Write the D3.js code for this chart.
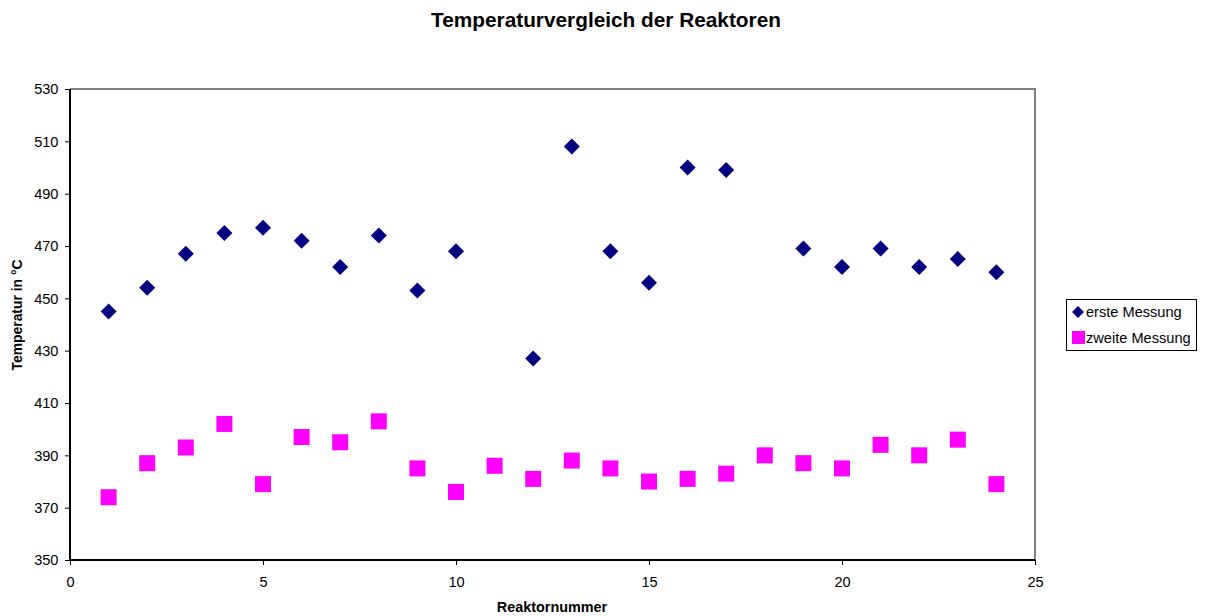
<!DOCTYPE html>
<html>
<head>
<meta charset="utf-8">
<script src="https://cdn.jsdelivr.net/npm/d3@7"></script>
<style>
  html, body { margin: 0; padding: 0; background: #fff; }
  svg { display: block; font-family: "Liberation Sans", Arial, sans-serif; }
</style>
</head>
<body>
<svg id="chart" width="1207" height="616"></svg>
<script>
// Reactor numbers and the two measurement series (°C); null = no reading
const reactors = [1,2,3,4,5,6,7,8,9,10,11,12,13,14,15,16,17,18,19,20,21,22,23,24];
const ersteMessung = [445,454,467,475,477,472,462,474,453,468,null,427,508,468,456,500,499,null,469,462,469,462,465,460];
const zweiteMessung = [374,387,393,402,379,397,395,403,385,376,386,381,388,385,380,381,383,390,387,385,394,390,396,379];
const xTicks = [0,5,10,15,20,25];
const yTicks = [350,370,390,410,430,450,470,490,510,530];
const seriesNames = ["erste Messung", "zweite Messung"];

const svg = d3.select("#chart");
const plot = { left: 70, top: 89, right: 1035, bottom: 560 };

const x = d3.scaleLinear().domain([0, 25]).range([plot.left, plot.right]);
const y = d3.scaleLinear().domain([350, 530]).range([plot.bottom, plot.top]);

// Title
svg.append("text")
  .attr("x", 606).attr("y", 27)
  .attr("text-anchor", "middle")
  .style("font-size", "20.8px").style("font-weight", "bold")
  .text("Temperaturvergleich der Reaktoren");

// Frame: grey top/right, axes drawn below in black
svg.append("path")
  .attr("d", `M${plot.left},${plot.top}H${plot.right}V${plot.bottom}`)
  .attr("fill", "none").attr("stroke", "#808080").attr("stroke-width", 2);

// Axes
const xAxis = svg.append("g")
  .attr("transform", `translate(0,${plot.bottom})`)
  .call(d3.axisBottom(x).tickValues(xTicks).tickSize(5).tickPadding(11.5).tickFormat(d3.format("d")));
const yAxis = svg.append("g")
  .attr("transform", `translate(${plot.left},0)`)
  .call(d3.axisLeft(y).tickValues(yTicks).tickSize(5).tickPadding(6.5).tickFormat(d3.format("d")));

[xAxis, yAxis].forEach(g => {
  g.select(".domain").attr("stroke", "#000").attr("stroke-width", 2);
  g.selectAll(".tick line").attr("stroke", "#000");
  g.selectAll(".tick text").attr("fill", "#000")
    .style("font-size", "14.6px").style("font-family", "Liberation Sans, Arial, sans-serif");
});
xAxis.select(".domain").attr("d", `M${plot.left},0H${plot.right}`);
yAxis.select(".domain").attr("d", `M0,${plot.bottom}V${plot.top}`);

// Axis titles
svg.append("text")
  .attr("x", 552).attr("y", 612)
  .attr("text-anchor", "middle")
  .style("font-size", "14.4px").style("font-weight", "bold")
  .text("Reaktornummer");
svg.append("text")
  .attr("transform", `translate(22,315) rotate(-90)`)
  .attr("text-anchor", "middle")
  .style("font-size", "13.9px").style("font-weight", "bold")
  .text("Temperatur in °C");

const diamond = (cx, cy, r) => `M${cx},${cy - r}L${cx + r},${cy}L${cx},${cy + r}L${cx - r},${cy}Z`;

// First measurement: navy diamonds
svg.append("g").selectAll("path")
  .data(reactors.map((r, i) => ({ r, v: ersteMessung[i] })).filter(d => d.v != null))
  .join("path")
  .attr("d", d => diamond(x(d.r), y(d.v), 8))
  .attr("fill", "#000080");

// Second measurement: magenta squares
svg.append("g").selectAll("rect")
  .data(reactors.map((r, i) => ({ r, v: zweiteMessung[i] })).filter(d => d.v != null))
  .join("rect")
  .attr("x", d => x(d.r) - 8).attr("y", d => y(d.v) - 8)
  .attr("width", 16).attr("height", 16)
  .attr("fill", "#FF00FF");

// Legend
const legend = svg.append("g");
legend.append("rect")
  .attr("x", 1066.5).attr("y", 299.5).attr("width", 130).attr("height", 51)
  .attr("fill", "#fff").attr("stroke", "#000").attr("stroke-width", 1);
const ly = [312, 338];
legend.append("path").attr("d", diamond(1078, ly[0], 6)).attr("fill", "#000080");
legend.append("rect").attr("x", 1072).attr("y", ly[1] - 7).attr("width", 13).attr("height", 13).attr("fill", "#FF00FF");
seriesNames.forEach((name, i) => {
  legend.append("text")
    .attr("x", 1086).attr("y", ly[i] + 5)
    .style("font-size", "14.6px")
    .text(name);
});
</script>
</body>
</html>
